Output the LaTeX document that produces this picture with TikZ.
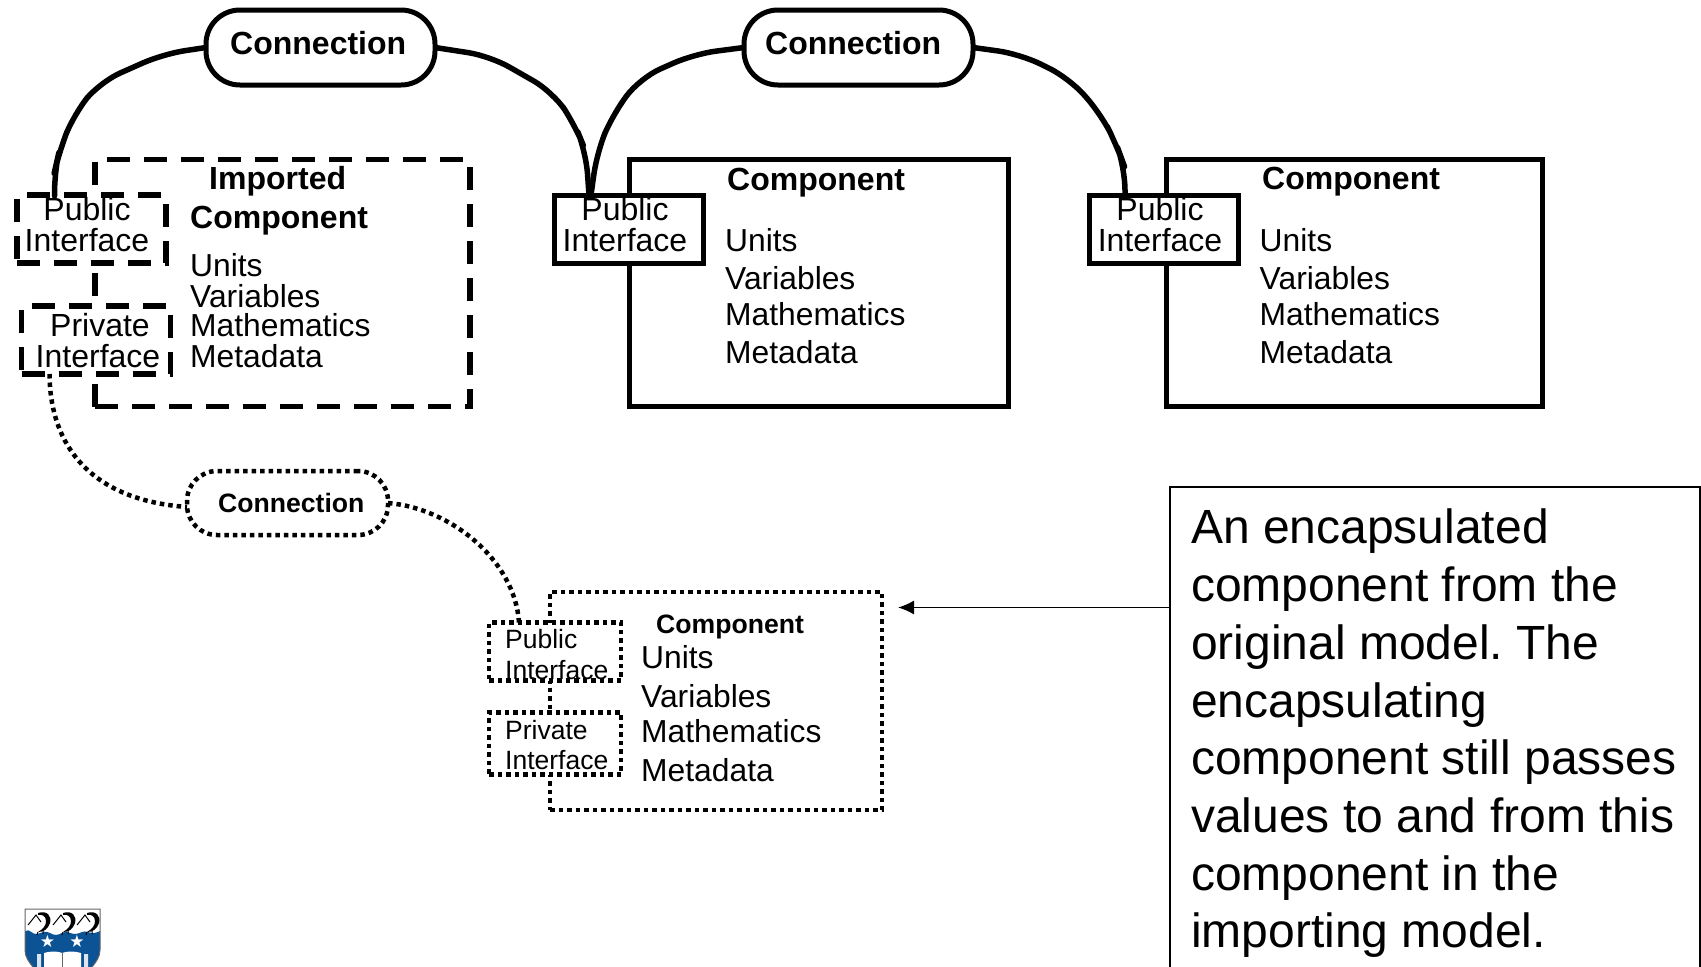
\documentclass[tikz,border=0pt]{standalone}
\usepackage{fontspec}
\setmainfont{Liberation Sans}
\newfontfamily\symfont{DejaVu Sans}
\usetikzlibrary{calc,arrows.meta}
\definecolor{crestblue}{HTML}{0B5394}
\frenchspacing
\tikzset{
  x=1pt,y=-1pt,
  box/.style={draw=black,fill=white,rectangle,inner sep=0pt,outer sep=0pt,line join=miter},
  solidbox/.style={box,line width=5pt},
  dashbox/.style={box,line width=5.5pt,dash pattern=on 23pt off 14pt},
  dotbox/.style={box,line width=4.5pt,dash pattern=on 4.5pt off 4pt},
  solidpill/.style={solidbox,rounded corners=34pt,line join=round},
  dotpill/.style={dotbox,rounded corners=30pt},
  solidwire/.style={draw=black,line width=5.5pt,line join=round,rounded corners=22pt},
  dotwire/.style={draw=black,line width=4.5pt,dash pattern=on 4.5pt off 4pt},
  big/.style={font=\fontsize{31.8}{32}\selectfont,inner sep=0pt,anchor=base west},
  bigc/.style={font=\fontsize{32}{32}\selectfont,inner sep=0pt,anchor=base},
  bigb/.style={font=\fontsize{32}{32}\selectfont\bfseries,inner sep=0pt,anchor=base west},
  smallb/.style={font=\fontsize{26.6}{27}\selectfont\bfseries,inner sep=0pt,anchor=base west},
  smallr/.style={font=\fontsize{26.5}{27}\selectfont,inner sep=0pt,anchor=base west},
  crestar/.style={font=\fontsize{17}{17}\selectfont\symfont,text=white,inner sep=0pt},
}
\newcommand{\kiwi}[1]{%
  \begin{scope}[shift={(#1,0)}]
    \fill[black] (38,913) .. controls (47,910) and (52,916) .. (50,923) .. controls (48,929) and (44,932) .. (38,932) .. controls (43,929) and (46,926) .. (46,921) .. controls (46,916) and (42,914) .. (38,915) -- cycle;
    \draw[black,line width=1pt] (28,925) -- (36,915) -- (41,922);
    \draw[black,line width=1pt] (38,932) -- (37,935) (43,930) -- (43,934);
  \end{scope}}
\begin{document}
\begin{tikzpicture}
\useasboundingbox (0,0) rectangle (1701,967);
% imported component
\node[dashbox,minimum width=375pt,minimum height=247pt] (imp) at (282.5,283) {};
\node[dashbox,minimum width=149pt,minimum height=68pt] (ipub) at (91.5,229) {};
\node[dashbox,minimum width=149pt,minimum height=68pt] (ipriv) at (96,340) {};
% components
\node[solidbox,minimum width=379pt,minimum height=247pt] (c1) at (818.5,282.5) {};
\node[solidbox,minimum width=149pt,minimum height=68pt] (pub1) at (628.5,229) {};
\node[solidbox,minimum width=376pt,minimum height=247pt] (c2) at (1354,282.5) {};
\node[solidbox,minimum width=149pt,minimum height=68pt] (pub2) at (1163.5,229) {};
% connections
\node[solidpill,minimum width=229pt,minimum height=75pt] (k1) at (320.5,47.5) {};
\node[solidpill,minimum width=229pt,minimum height=75pt] (k2) at (858.5,47.5) {};
\node[dotpill,minimum width=201pt,minimum height=64pt] (k3) at (287.5,503) {};
% encapsulated component
\node[dotbox,minimum width=332pt,minimum height=218pt] (s) at (716,701) {};
\node[dotbox,minimum width=132pt,minimum height=58pt] (spub) at (555,651.5) {};
\node[dotbox,minimum width=132pt,minimum height=62pt] (spriv) at (555,743.5) {};
% wires
\draw[solidwire] (k1.west) -- (163,54) -- (100,82) -- (74,114) -- (59,152) -- (54,174) -- ($(ipub.north west)+(37.5,0)$);
\draw[solidwire] (k1.east) -- (490,56) -- (553,92) -- (575,125) -- (586,152) -- ($(pub1.north west)+(35,0)$);
\draw[solidwire] (k2.west) -- (694,54) -- (640,78) -- (613,114) -- (597,152) -- ($(pub1.north west)+(37,0)$);
\draw[solidwire] (k2.east) -- (1020,54) -- (1069,78) -- (1101,114) -- (1117,146) -- (1125,168) -- ($(pub2.north west)+(36,0)$);
\draw[dotwire] ($(ipriv.south west)+(28,0)$) .. controls (50,445) and (90,500) .. ($(k3.west)+(0,4)$);
\draw[dotwire] (k3.east) .. controls (450,508) and (515,560) .. ($(spub.north west)+(30,0)$);
% callout
\node[minimum width=530pt,minimum height=480pt,inner sep=0pt,outer sep=0pt] (note) at (1435,727) {};
\draw[black,line width=1.5pt] (note.south west) |- (note.north east) -- (note.south east);
\coordinate (tip) at ($(s.east)+(16,-93.5)$);
\draw[black,line width=1.5pt,-{Latex[length=16pt,width=14pt]}] (note.west |- tip) -- (tip);
\node[font=\fontsize{48}{57.7}\selectfont,inner sep=0pt,anchor=north west,align=left] (notetext) at (1191,509) {An encapsulated\\component from the\\original model. The\\encapsulating\\component still passes\\values to and from this\\component in the\\importing model.};
% labels
\node[bigb] (t1) at (230,54) {Connection};
\node[bigb] (t2) at (765,54) {Connection};
\node[smallb] (t3) at (218,512) {Connection};
\node[bigb] (t4) at (209,189) {Imported};
\node[bigb] (t5) at (190,228) {Component};
\node[big] (t6) at (190,276) {Units};
\node[big] (t7) at (190,307) {Variables};
\node[big] (t8) at (190,336) {Mathematics};
\node[big] (t9) at (190,367) {Metadata};
\node[bigc] (t10) at (87,220) {Public};
\node[bigc] (t11) at (87,251) {Interface};
\node[bigc] (t12) at (100,336) {Private};
\node[bigc] (t13) at (98,367) {Interface};
\node[bigb] (t14) at (727,190) {Component};
\node[big] (t15) at (725,251) {Units};
\node[big] (t16) at (725,289) {Variables};
\node[big] (t17) at (725,325) {Mathematics};
\node[big] (t18) at (725,363) {Metadata};
\node[bigc] (t19) at (625,220) {Public};
\node[bigc] (t20) at (625,251) {Interface};
\node[bigb] (t21) at (1262,189) {Component};
\node[big] (t22) at (1259.5,251) {Units};
\node[big] (t23) at (1259.5,289) {Variables};
\node[big] (t24) at (1259.5,325) {Mathematics};
\node[big] (t25) at (1259.5,363) {Metadata};
\node[bigc] (t26) at (1160,220) {Public};
\node[bigc] (t27) at (1160,251) {Interface};
\node[smallb] (t28) at (656,633) {Component};
\node[big] (t29) at (641,668) {Units};
\node[big] (t30) at (641,707) {Variables};
\node[big] (t31) at (641,742) {Mathematics};
\node[big] (t32) at (641,781) {Metadata};
\node[smallr] (t33) at (505,648) {Public};
\node[smallr] (t34) at (505,679) {Interface};
\node[smallr] (t35) at (505,739) {Private};
\node[smallr] (t36) at (505,769) {Interface};
% crest
\fill[white] (25,909) -- (100,909) -- (100,950) .. controls (100,957) and (96,962) .. (92,967) -- (33,967) .. controls (29,962) and (25,957) .. (25,950) -- cycle;
\fill[crestblue] (25,931) .. controls (30,928) and (32,935) .. (37,934) .. controls (42,933) and (45,930) .. (50,933) .. controls (55,936) and (58,935) .. (62,933) .. controls (67,930) and (70,934) .. (75,934) .. controls (80,934) and (83,930) .. (88,932) .. controls (93,934) and (96,933) .. (100,931) -- (100,950) .. controls (100,957) and (96,962) .. (92,967) -- (33,967) .. controls (29,962) and (25,957) .. (25,950) -- cycle;
\draw[black!60,line width=1pt] (33,967) .. controls (29,962) and (25,957) .. (25,950) -- (25,909) -- (100,909) -- (100,950) .. controls (100,957) and (96,962) .. (92,967);
\kiwi{0}\kiwi{25}\kiwi{49}
\node[crestar] (s1) at (47.5,941) {★};
\node[crestar] (s2) at (77,941) {★};
\fill[white] (44,953) .. controls (50,951) and (58,951) .. (62,953) .. controls (67,951) and (75,951) .. (81,953) -- (81,967) -- (44,967) -- cycle;
\draw[black!60,line width=0.6pt] (62,953) -- (62,967);
\fill[white!85!crestblue] (37,954) rectangle (41,967) (84,954) rectangle (88,967);
\end{tikzpicture}
\end{document}
